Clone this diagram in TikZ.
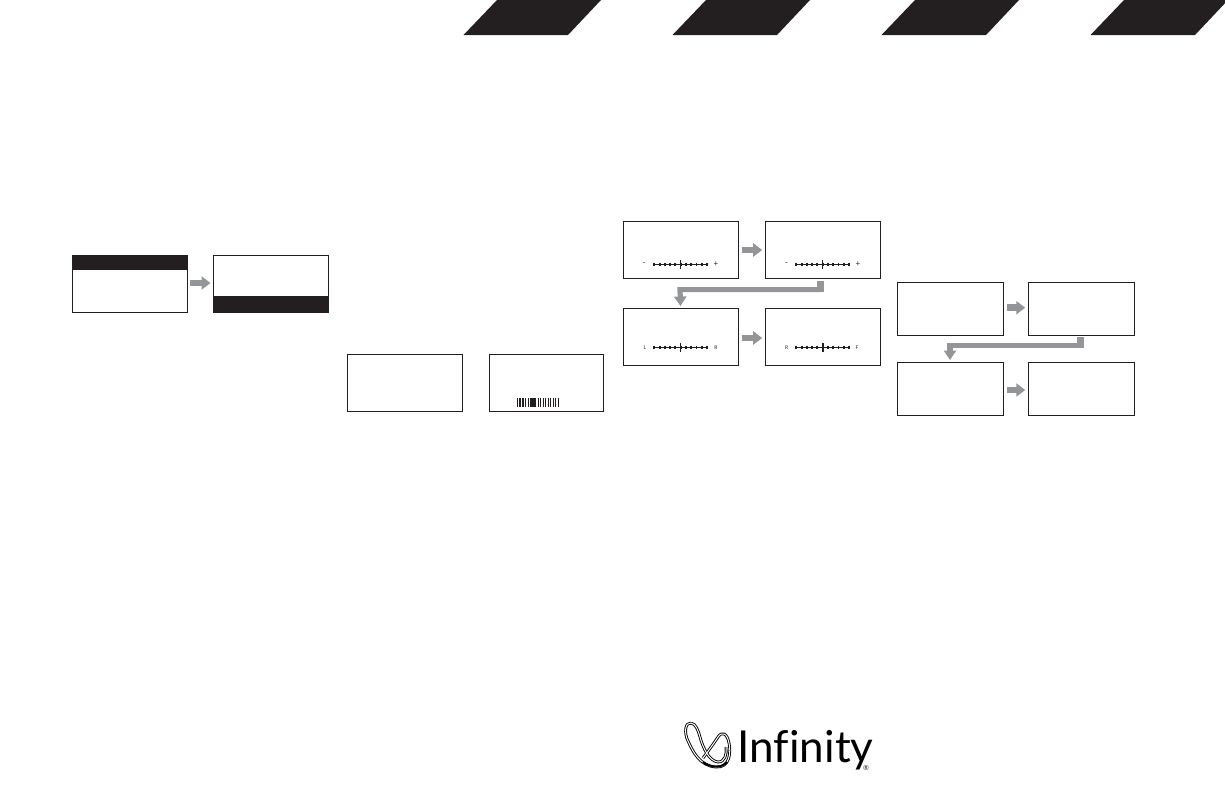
\documentclass[tikz,border=0pt]{standalone}
\usepackage{fontspec}
\setmainfont{Lato}
\usetikzlibrary{arrows.meta}
\definecolor{inkblack}{HTML}{231F20}
\definecolor{arrowgray}{HTML}{939598}
\tikzset{
  panel/.style={draw=inkblack,line width=1pt,fill=white,minimum width=#1,minimum height=57.5pt,inner sep=0pt,outer sep=0pt},
  panel/.default=115pt,
  smallpanel/.style={draw=inkblack,line width=1pt,fill=white,minimum width=106.5pt,minimum height=53.3pt,inner sep=0pt,outer sep=0pt},
  band/.style={fill=inkblack,inner sep=0pt,outer sep=0pt,minimum width=115.5pt},
  nextarrow/.style={draw=arrowgray,line width=6.5pt,-{Triangle[width=13pt,length=9pt]},shorten >=3pt,shorten <=3pt},
  turnarrow/.style={draw=arrowgray,line width=5.2pt,line join=miter,-{Triangle[width=12pt,length=9.5pt]}},
  stub/.style={draw=arrowgray,line width=7pt},
  scalelabel/.style={font=\fontsize{8}{8}\selectfont,text=inkblack,inner sep=0pt},
  endlabel/.style={font=\fontsize{5}{5}\selectfont,text=inkblack,inner sep=0pt},
}
\newcommand{\tickscale}[3]{%
\draw[inkblack,line width=1pt] (#1,#2) -- ++(52.7,0);
\foreach \k in {0,...,10}
  \draw[inkblack,line width=1.9pt] ({#1+\k*5.27},#2-1.6) -- ++(0,3.2);
\draw[inkblack,line width=#3] (#1+26.3,#2-4.2) -- ++(0,8.4);
}
\begin{document}
\begin{tikzpicture}[x=1pt,y=-1pt]
\useasboundingbox (0,0) rectangle (1225,793);

% tabs along the top edge
\foreach \t in {463.5,672.5,881.5,1090.5}
  \fill[inkblack] (\t,35) -- (\t+33.5,0) -- (\t+137.5,0) -- (\t+104.5,35) -- cycle;

% first pair
\node[panel] (onea) at (129.5,284) {};
\node[panel] (oneb) at (271,284) {};
\node[band,minimum height=15pt] (bandone) at (129.5,262.5) {};
\node[band,minimum height=17pt] (bandtwo) at (271,304.5) {};
\draw[nextarrow] ([yshift=1pt]onea.east) -- ([yshift=1pt]oneb.west);

% second pair
\node[panel] (twoa) at (404.8,383) {};
\node[panel=114.4pt] (twob) at (546.5,383) {};
\foreach \b in {517.4,520.15,...,528.5}
  \fill[inkblack] (\b-.7,398.3) rectangle (\b+.7,407);
\fill[inkblack] (530.4,398.3) rectangle (536.4,407);
\foreach \b in {538.2,540.7,...,558.5}
  \fill[inkblack] (\b-.7,398.3) rectangle (\b+.7,407);

% third group
\node[panel] (threea) at (681,250) {};
\node[panel] (threeb) at (822.7,250) {};
\node[panel] (threec) at (681,336.8) {};
\node[panel] (threed) at (822.7,336.8) {};
\draw[nextarrow] (threea) -- (threeb);
\draw[nextarrow] ([yshift=-1.2pt]threec.east) -- ([yshift=-1.2pt]threed.west);
\coordinate (threefrom) at (820.5,281);
\coordinate (threeturn) at (680,289.6);
\coordinate (threeto) at (680.5,306);
\draw[stub] (threefrom) -- (threefrom |- threeturn) -- ++(0,2.6);
\draw[turnarrow] (threefrom |- threeturn) -- (threeturn) -- (threeto);
\tickscale{654.3}{264.3}{.9pt}
\tickscale{796.3}{264.3}{.9pt}
\tickscale{654.3}{347.3}{.9pt}
\tickscale{796.3}{347.3}{2.2pt}
\node[scalelabel] (minusa) at (644.3,264.3) {-};
\node[scalelabel] (plusa) at (716,264.3) {+};
\node[scalelabel] (minusb) at (786.5,264.3) {-};
\node[scalelabel] (plusb) at (858,264.3) {+};
\node[endlabel] (leftl) at (645,347.3) {L};
\node[endlabel] (rightr) at (716,347.3) {R};
\node[endlabel] (rearr) at (786.7,347.3) {R};
\node[endlabel] (frontf) at (857,347.3) {F};

% fourth group
\node[smallpanel] (foura) at (950.5,309) {};
\node[smallpanel] (fourb) at (1081.5,309) {};
\node[smallpanel] (fourc) at (950.5,388.8) {};
\node[smallpanel] (fourd) at (1081.5,388.8) {};
\draw[nextarrow] ([yshift=1.3pt]foura.east) -- ([yshift=1.3pt]fourb.west);
\draw[nextarrow] ([yshift=-1.2pt]fourc.east) -- ([yshift=-1.2pt]fourd.west);
\coordinate (fourfrom) at (1080.3,337.3);
\coordinate (fourturn) at (950,345.2);
\coordinate (fourto) at (950,360);
\draw[stub] (fourfrom) -- (fourfrom |- fourturn) -- ++(0,2.6);
\draw[turnarrow] (fourfrom |- fourturn) -- (fourturn) -- (fourto);

% logo
\foreach \w/\c in {2.8/black,1/white}{
\draw[\c,line width=\w pt,line join=round]
  (691,723) .. controls (685,722) and (684,733) .. (688,741)
  .. controls (693,752) and (700,766) .. (716,767)
  .. controls (730,768) and (731,752) .. (729,743)
  .. controls (727,733) and (722,731) .. (718,737)
  .. controls (712,746) and (706,754) .. (703,758);
\draw[\c,line width=\w pt,line join=round]
  (691,723) .. controls (696,724) and (698,730) .. (700,737)
  .. controls (703,748) and (709,761) .. (718,762)
  .. controls (725,762) and (727,754) .. (726,747);
}
\draw[black,line width=1.8pt] (703,762) .. controls (708,767) and (722,769) .. (727,762);
\node[inner sep=0pt,anchor=base west,text=black,text depth=0pt,font=\fontsize{44}{44}\selectfont] (logotext) at (737.5,762.7) {Inf\kern0pt inity};
\node[inner sep=0pt,text=inkblack,font=\fontsize{7}{7}\selectfont] (logomark) at (866,767.5) {®};
\end{tikzpicture}
\end{document}
